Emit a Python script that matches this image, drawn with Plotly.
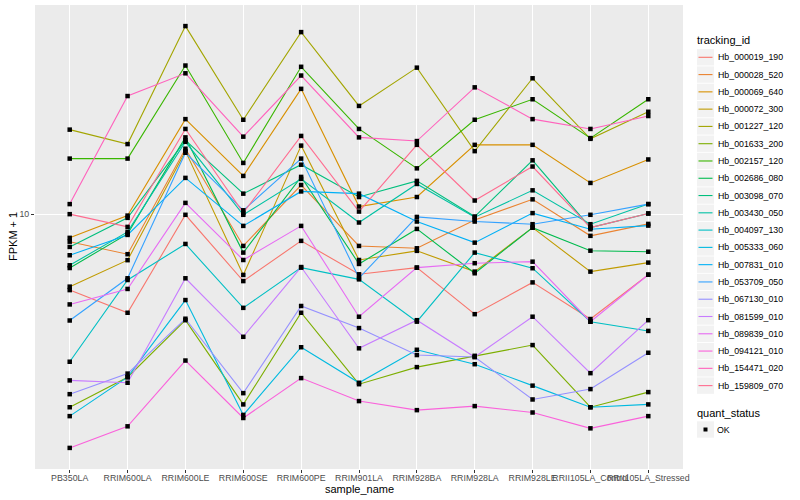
import numpy as np
import plotly.graph_objects as go

samples = ["PB350LA", "RRIM600LA", "RRIM600LE", "RRIM600SE", "RRIM600PE", "RRIM901LA",
           "RRIM928BA", "RRIM928LA", "RRIM928LE", "RRII105LA_Control", "RRII105LA_Stressed"]

tracking_ids = ["Hb_000019_190", "Hb_000028_520", "Hb_000069_640", "Hb_000072_300",
                "Hb_001227_120", "Hb_001633_200", "Hb_002157_120", "Hb_002686_080",
                "Hb_003098_070", "Hb_003430_050", "Hb_004097_130", "Hb_005333_060",
                "Hb_007831_010", "Hb_053709_050", "Hb_067130_010", "Hb_081599_010",
                "Hb_089839_010", "Hb_094121_010", "Hb_154471_020", "Hb_159809_070"]

colors = ["#F8766D", "#EA8331", "#D89000", "#C09B00", "#A3A500", "#7CAE00", "#39B600",
          "#00BB4E", "#00BF7D", "#00C1A3", "#00BFC4", "#00BAE0", "#00B0F6", "#35A2FF",
          "#9590FF", "#C77CFF", "#E76BF3", "#FA62DB", "#FF62BC", "#FF6C90"]

# FPKM + 1 per sample (order of `samples`)
hb_000019_190 = [5.59, 4.70, 9.95, 5.99, 8.15, 6.31, 6.64, 4.65, 5.93, 4.48, 6.29]
hb_000028_520 = [8.10, 7.36, 16.5, 7.84, 12.5, 7.84, 7.70, 9.57, 11.2, 8.47, 9.28]
hb_000069_640 = [8.34, 9.89, 20.7, 13.4, 26.1, 10.6, 11.4, 17.0, 17.0, 12.7, 15.2]
hb_000072_300 = [5.74, 7.03, 16.2, 6.28, 16.9, 7.04, 7.55, 6.44, 9.02, 6.44, 6.90]
hb_001227_120 = [19.1, 17.1, 42.2, 20.6, 40.3, 22.9, 30.7, 16.2, 28.3, 17.8, 21.9]
hb_001633_200 = [2.28, 2.87, 4.44, 2.33, 4.70, 2.72, 3.10, 3.38, 3.67, 2.28, 2.56]
hb_002157_120 = [15.3, 15.3, 31.2, 14.8, 30.9, 19.2, 14.2, 20.6, 24.1, 17.9, 24.1]
hb_002686_080 = [6.62, 8.60, 18.0, 7.45, 13.3, 6.83, 8.93, 6.36, 9.02, 7.56, 7.50]
hb_003098_070 = [7.78, 9.72, 17.6, 11.7, 14.6, 11.4, 12.9, 9.82, 15.1, 9.02, 10.05]
hb_003430_050 = [6.76, 8.73, 17.4, 9.95, 13.1, 9.38, 12.6, 9.77, 12.0, 9.26, 10.8]
hb_004097_130 = [3.23, 6.04, 7.96, 4.88, 6.64, 6.07, 4.39, 7.45, 6.61, 4.39, 4.09]
hb_005333_060 = [2.13, 2.87, 5.18, 2.15, 3.61, 2.75, 3.54, 3.17, 2.69, 2.28, 2.33]
hb_007831_010 = [7.30, 8.53, 13.2, 9.14, 11.9, 11.7, 9.45, 8.04, 10.08, 8.91, 9.16]
hb_053709_050 = [4.43, 6.12, 16.0, 10.3, 15.3, 6.13, 9.79, 9.45, 9.26, 9.95, 10.8]
hb_067130_010 = [2.52, 2.95, 4.49, 2.54, 4.95, 4.18, 3.40, 3.35, 2.42, 2.62, 3.46]
hb_081599_010 = [2.80, 2.75, 6.12, 3.91, 6.67, 3.58, 4.44, 3.35, 4.56, 2.96, 4.44]
hb_089839_010 = [5.01, 5.64, 10.9, 7.04, 9.14, 4.56, 6.64, 6.87, 6.95, 4.39, 6.29]
hb_094121_010 = [1.67, 1.97, 3.26, 2.10, 2.85, 2.39, 2.23, 2.30, 2.19, 1.94, 2.13]
hb_154471_020 = [10.8, 24.7, 29.4, 18.1, 28.9, 18.0, 17.5, 26.4, 20.7, 19.2, 21.2]
hb_159809_070 = [10.0, 9.07, 19.2, 10.1, 18.2, 10.2, 17.0, 11.1, 14.4, 9.02, 10.05]

series = [hb_000019_190, hb_000028_520, hb_000069_640, hb_000072_300, hb_001227_120,
          hb_001633_200, hb_002157_120, hb_002686_080, hb_003098_070, hb_003430_050,
          hb_004097_130, hb_005333_060, hb_007831_010, hb_053709_050, hb_067130_010,
          hb_081599_010, hb_089839_010, hb_094121_010, hb_154471_020, hb_159809_070]

quant_status = ["OK"]

FONT = "Liberation Sans"
W, H = 800, 500
ML, MR, MT, MB = 35, 117, 5, 31
PW, PH = W - ML - MR, H - MT - MB

def px(xp):
    return (xp - ML) / PW

def py(yp):
    return (H - MB - yp) / PH

fig = go.Figure()

for name, col, vals in zip(tracking_ids, colors, series):
    fig.add_trace(go.Scatter(x=samples, y=vals, mode="lines", name=name,
                             line=dict(color=col, width=1.1), showlegend=False))

all_x, all_y = [], []
for vals in series:
    all_x += samples
    all_y += vals
fig.add_trace(go.Scatter(x=all_x, y=all_y, mode="markers", name="OK",
                         marker=dict(color="black", symbol="square", size=4.5),
                         showlegend=False))

lo = np.log10(min(min(s) for s in series))
hi = np.log10(max(max(s) for s in series))
pad = 0.05 * (hi - lo)

# ---- hand-built legend (ggplot style) ----
shapes, annots = [], []
annots.append(dict(text="tracking_id", x=px(695), y=py(40.5), xref="paper", yref="paper",
                   xanchor="left", yanchor="middle", showarrow=False,
                   font=dict(size=11, family=FONT, color="black")))
step = 17.28
for i, (name, col) in enumerate(zip(tracking_ids, colors)):
    cy = 57.3 + i * step
    shapes.append(dict(type="rect", xref="paper", yref="paper", x0=px(697), x1=px(714),
                       y0=py(cy - 8.2), y1=py(cy + 8.2), fillcolor="#F2F2F2",
                       line=dict(width=0), layer="above"))
    shapes.append(dict(type="line", xref="paper", yref="paper", x0=px(698.5), x1=px(712.5),
                       y0=py(cy), y1=py(cy), line=dict(color=col, width=1.1), layer="above"))
    annots.append(dict(text=name, x=px(715.5), y=py(cy), xref="paper", yref="paper",
                       xanchor="left", yanchor="middle", showarrow=False,
                       font=dict(size=8.8, family=FONT, color="black")))

annots.append(dict(text="quant_status", x=px(695), y=py(412.7), xref="paper", yref="paper",
                   xanchor="left", yanchor="middle", showarrow=False,
                   font=dict(size=11, family=FONT, color="black")))
okc = 429.5
shapes.append(dict(type="rect", xref="paper", yref="paper", x0=px(697), x1=px(714),
                   y0=py(okc - 8.2), y1=py(okc + 8.2), fillcolor="#F2F2F2",
                   line=dict(width=0), layer="above"))
shapes.append(dict(type="rect", xref="paper", yref="paper", x0=px(703.5), x1=px(707.5),
                   y0=py(okc - 2), y1=py(okc + 2), fillcolor="black",
                   line=dict(width=0), layer="above"))
annots.append(dict(text=quant_status[0], x=px(715), y=py(okc), xref="paper", yref="paper",
                   xanchor="left", yanchor="middle", showarrow=False,
                   font=dict(size=8.8, family=FONT, color="black")))

# axis titles placed like ggplot
annots.append(dict(text="sample_name", x=px(359), y=py(489), xref="paper", yref="paper",
                   xanchor="center", yanchor="middle", showarrow=False,
                   font=dict(size=11, family=FONT, color="black")))
annots.append(dict(text="FPKM + 1", x=px(13), y=py(237), xref="paper", yref="paper",
                   xanchor="center", yanchor="middle", showarrow=False, textangle=-90,
                   font=dict(size=11, family=FONT, color="black")))

fig.update_layout(
    width=W, height=H,
    margin=dict(l=ML, r=MR, t=MT, b=MB, autoexpand=False),
    paper_bgcolor="white", plot_bgcolor="#EBEBEB",
    font=dict(family=FONT, color="black"),
    showlegend=False,
    shapes=shapes, annotations=annots,
    xaxis=dict(type="category", range=[-0.6, 10.6], showgrid=True, gridcolor="white",
               gridwidth=1.1, tickangle=0, ticks="outside", ticklen=3, tickcolor="#333333",
               ticklabelstandoff=-3,
               tickfont=dict(size=8.8, color="#4D4D4D", family=FONT), zeroline=False,
               showline=False, automargin=False),
    yaxis=dict(type="log", range=[lo - pad, hi + pad], tickvals=[10], ticktext=["10"],
               showgrid=True, gridcolor="white", gridwidth=1.1, ticks="outside", ticklen=3,
               tickcolor="#333333", tickfont=dict(size=8.8, color="#4D4D4D", family=FONT),
               zeroline=False, minor=dict(showgrid=False),
               showline=False, automargin=False),
)

fig.write_html("out.html", config={"displayModeBar": False},
               post_script="document.body.style.margin='0px';document.body.style.overflow='hidden';")
